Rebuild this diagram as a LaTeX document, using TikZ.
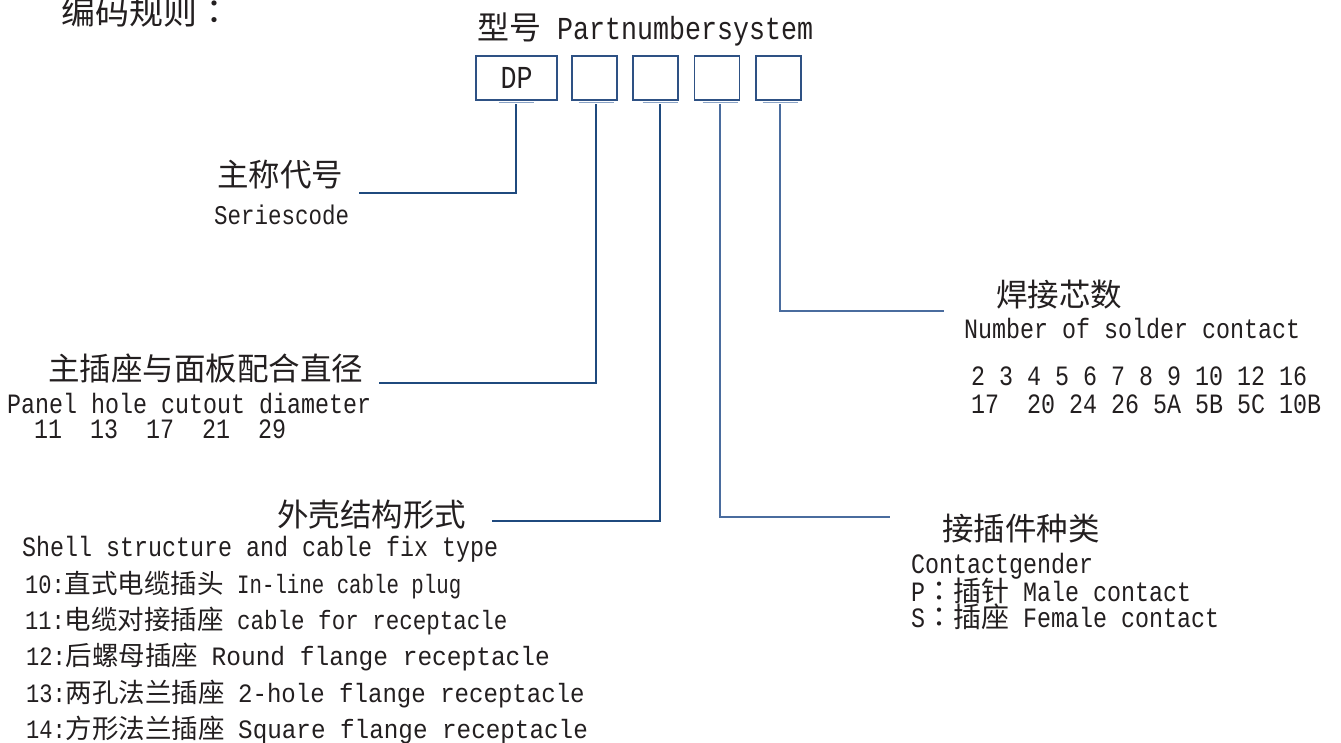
\documentclass[tikz,border=0pt]{standalone}
\usepackage{fontspec}
\usepackage{graphicx}
\newfontfamily\cjk{Noto Sans CJK SC}
\newfontfamily\cjkpunct{Noto Sans CJK TC}
\newfontfamily\latin[FakeStretch=0.833]{Liberation Mono}
\newcommand\wide[2]{\scalebox{#1}[1]{#2}}
\definecolor{ink}{HTML}{231F20}
\definecolor{leadc}{HTML}{1F4A7E}
\definecolor{thinc}{HTML}{4A6C9E}
\definecolor{barc}{HTML}{8AA3C6}
\definecolor{boxc}{HTML}{2E5184}
\tikzset{
  txt/.style={anchor=base west, inner sep=0pt, text=ink},
  head/.style={txt, font=\cjk\fontsize{31.5}{32}\selectfont},
  en/.style={txt, font=\latin\fontsize{28}{28}\selectfont},
  item/.style={txt, font=\latin\fontsize{26.5}{27}\selectfont},
  cell/.style={draw=boxc, line width=1.3pt, minimum width=45pt, minimum height=44pt, inner sep=0pt},
  bar/.style={draw=barc, line width=1.5pt},
  lead/.style={draw=leadc, line width=2.4pt},
  leadthin/.style={draw=thinc, line width=1.1pt},
}
\begin{document}
\begin{tikzpicture}[x=1pt, y=-1pt]
   \useasboundingbox[fill=white] (0,0) rectangle (1341,742);
   % title and code boxes
   \node[txt, font=\cjk\fontsize{34}{34}\selectfont] (rule) at (61,24) {编码规则{\cjkpunct ：}};
   \node[txt, font=\latin\fontsize{32}{32}\selectfont] (title) at (477,39) {{\cjk 型号} Partnumbersystem};
   \node[cell, minimum width=81pt, line width=1.7pt, font=\latin\fontsize{32}{32}\selectfont, text=ink] (dp) at (516.5,78) {DP};
   \node[cell] (c2) at (594.5,78) {};
   \node[cell] (c3) at (655.5,78) {};
   \node[cell] (c4) at (717,78) {};
   \node[cell] (c5) at (778.5,78) {};
   \foreach \x [count=\i] in {516,596,660,720,780} {
      \coordinate (t\i) at (\x,104);
      \draw[bar] (\x-17.5,102.5) -- (\x+17.5,102.5);
   }
   % series code
   \node[head] (series) at (217,186) {主称代号};
   \node[txt, font=\latin\fontsize{27}{27}\selectfont] (seriesen) at (214,224) {Seriescode};
   \coordinate (e1) at (359,193);
   \draw[lead] (t1) |- (e1);
   % panel hole
   \node[head] (panel) at (48,380) {主插座与面板配合直径};
   \node[en] (panelen) at (7,413) {Panel hole cutout diameter};
   \node[en] (panelval) at (34,438) {11~~13~~17~~21~~29};
   \coordinate (e2) at (379,383);
   \draw[lead] (t2) |- (e2);
   % shell
   \node[head] (shell) at (277,526) {外壳结构形式};
   \node[en] (shellen) at (22,556) {Shell structure and cable fix type};
   \node[item] (s10) at (25,593) {10:{\cjk 直式电缆插头} \wide{0.94}{In-line cable plug}};
   \node[item] (s11) at (25,629) {11:{\cjk 电缆对接插座} \wide{1.02}{cable for receptacle}};
   \node[item] (s12) at (26,665) {12:{\cjk 后螺母插座} \wide{1.11}{Round flange receptacle}};
   \node[item] (s13) at (26,702) {13:{\cjk 两孔法兰插座} \wide{1.09}{2-hole flange receptacle}};
   \node[item] (s14) at (26,738) {14:{\cjk 方形法兰插座} \wide{1.10}{Square flange receptacle}};
   \coordinate (e3) at (492,521);
   \draw[draw=leadc, line width=1.7pt] (t3) |- (e3);
   % contact gender
   \node[head] (gender) at (942,540) {接插件种类};
   \node[en] (genderen) at (911,573) {Contactgender};
   \node[en] (male) at (911,601) {P{\cjkpunct ：}{\cjk 插针} Male contact};
   \node[en] (female) at (911,627) {S{\cjkpunct ：}{\cjk 插座} Female contact};
   \coordinate (e4) at (890,517);
   \draw[leadthin] (t4) |- (e4);
   % solder contacts
   \node[head] (solder) at (996,306) {焊接芯数};
   \node[en] (solderen) at (964,338) {Number of solder contact};
   \node[en] (num1) at (971,385) {2 3 4 5 6 7 8 9 10 12 16};
   \node[en] (num2) at (971,413) {17~~20 24 26 5A 5B 5C 10B};
   \coordinate (e5) at (944,311);
   \draw[leadthin] (t5) |- (e5);
\end{tikzpicture}
\end{document}
